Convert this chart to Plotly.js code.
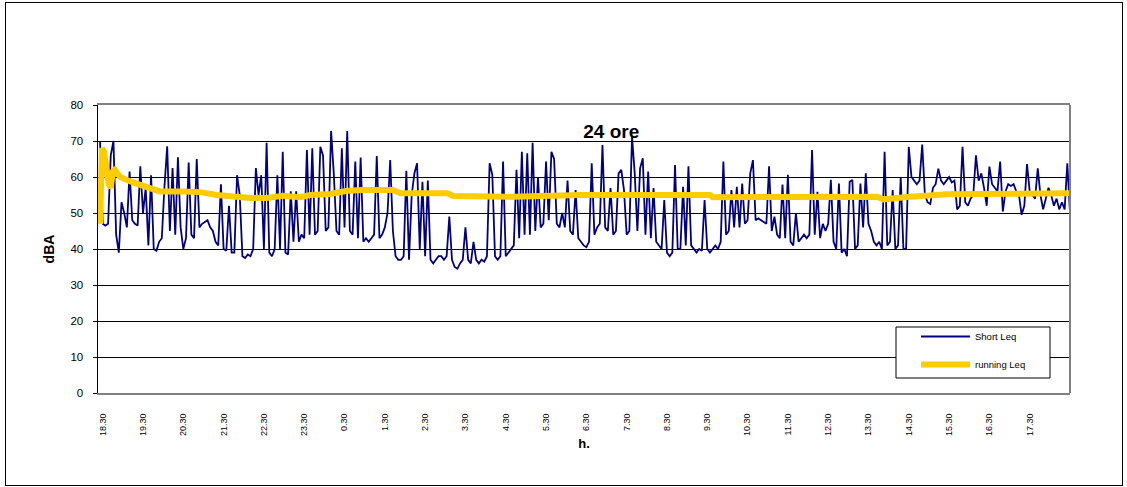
<!DOCTYPE html>
<html>
<head>
<meta charset="utf-8">
<script src="https://cdn.plot.ly/plotly-3.0.1.min.js"></script>
<style>
  html, body { margin: 0; padding: 0; background: #fff; }
  #wrap { position: relative; width: 1127px; height: 487px; }
  #frame { position: absolute; left: 5px; top: 2px; width: 1116px; height: 482px; border: 1px solid #000; pointer-events: none; }
  #chart { position: absolute; left: 0; top: 0; width: 1127px; height: 487px; }
</style>
</head>
<body>
<div id="wrap">
  <div id="chart"></div>
  <div id="frame"></div>
</div>
<script>
// ---- data ----
const chartTitle = '24 ore';
const yTitle = 'dBA';
const xTitle = 'h.';
const seriesNames = ['Short Leq', 'running Leq'];

// Short Leq: one value every 4 minutes starting at 18:26
const shortStart = '18:26';
const shortStepMin = 4;
const shortLeq = [
  70, 47, 46.5, 47, 66, 70, 44, 39, 53, 50, 46, 61.5, 48, 47, 46.5,
  63, 50, 57, 41, 60.5, 40, 39.5, 42, 43, 57.5, 68.5, 45, 62.5, 44, 65.5,
  46, 40, 43, 64, 44, 43, 65, 46, 47, 47.5, 48, 46, 45, 42, 41,
  58, 40, 39.5, 52, 39, 39, 60.5, 55, 38, 37.5, 38.5, 38, 40, 62.5, 55,
  60.5, 40, 69.5, 39, 38, 40, 60.5, 40, 67, 39, 38.5, 56, 42, 56, 42,
  44, 43, 67.5, 44, 68, 44, 45, 68.4, 66, 45, 46, 72.8, 61, 45, 44,
  68, 46, 72.8, 45, 44, 64.3, 43, 65.4, 42, 43, 42, 43, 44, 65.8, 43,
  44, 46, 50, 64.7, 45, 38, 37, 37, 38, 61.7, 37, 55, 61, 63.8, 40,
  58.7, 38, 59, 37, 36, 37, 38, 38, 37, 38, 49, 37, 35, 34.5, 36,
  37, 46, 37, 36, 42, 37, 36, 37, 36.5, 38, 63.8, 60.6, 38, 37, 38,
  64.3, 38, 39, 40, 41, 62, 43, 67, 44, 66.6, 44, 69.5, 45, 60, 46,
  47, 64.3, 48, 67, 65, 47, 46, 50, 46, 59, 45, 44, 56.4, 43, 42,
  41, 40.5, 42, 63.8, 44, 46, 47, 68.9, 46, 45, 56.9, 44, 45, 61, 62,
  56.4, 44, 45, 71.2, 61, 45, 62.4, 65.2, 44, 61.5, 43, 56.9, 42, 41, 40,
  53.6, 39, 38, 39, 63.3, 40, 40, 57.3, 41, 63, 41, 40, 39, 40, 39.5,
  53.6, 40, 39, 40, 41, 40, 42, 64.3, 44, 45, 56.4, 46, 57.3, 46, 58.2,
  47, 48, 61, 64.7, 48, 48.5, 48, 47.5, 47, 63, 45, 49, 44, 43, 57.9,
  43, 60.6, 42, 41, 50, 42, 43, 44, 43, 44, 67.5, 44, 55.9, 43, 47,
  45, 47, 59.2, 42, 40, 58.2, 39, 40, 38, 58.7, 59.2, 40, 41, 58.2, 46,
  61, 47, 45, 42, 41, 42, 40, 67, 41, 42, 56.4, 40, 41, 60, 40,
  40, 68.4, 60, 59, 58, 59, 69, 55, 53, 52.5, 57, 58, 62.3, 59, 58,
  59, 60, 58.5, 59, 51, 52, 68.4, 53, 52, 54, 55, 66, 59, 61, 57,
  52, 62.9, 58, 57, 56, 64.3, 50.4, 56, 58, 57.5, 58, 56, 55, 49.5, 52,
  63.6, 56, 55, 54, 62.4, 55, 51, 54, 57, 55, 52, 54, 51, 53, 51,
  63.8, 50
];

// running Leq: clock time / value
const runTimes = ['18:26','18:29','18:32','18:35','18:39','18:42','18:45','18:48','18:56','19:15',
  '19:40','19:55','20:30','20:55','21:20','21:44','22:09','22:34','22:58','23:24',
  '23:39','00:09','00:34','00:58','01:42','01:53','03:03','03:12','04:41','06:21',
  '09:34','09:38','13:43','13:52','14:27','14:32','15:27','18:29'];
const runValues = [47, 68, 67, 62, 58, 57, 61.5, 62, 60, 58.5,
  57, 56, 56, 55.8, 55, 54.5, 54.2, 54.2, 54.8, 54.4,
  55, 55.3, 56.2, 56.4, 56.4, 55.5, 55.5, 54.7, 54.5, 55,
  55, 54.4, 54.5, 53.8, 54.1, 54.5, 55.2, 55.5];

const tickLabels = ['18.30','19.30','20.30','21.30','22.30','23.30','0.30','1.30','2.30','3.30',
  '4.30','5.30','6.30','7.30','8.30','9.30','10.30','11.30','12.30','13.30',
  '14.30','15.30','16.30','17.30'];
const yTicks = [0, 10, 20, 30, 40, 50, 60, 70, 80];

// ---- helpers ----
const DAY0 = Date.UTC(2024, 0, 1);
function clockSeq(list, sep) {
  let day = 0, prev = -1;
  return list.map(s => {
    const [h, m] = s.split(sep).map(Number);
    const mins = h * 60 + m;
    if (prev >= 0 && mins < prev) day += 1;
    prev = mins;
    return DAY0 + (day * 1440 + mins) * 60000;
  });
}
function iso(ms) { return new Date(ms).toISOString().replace('T', ' ').slice(0, 19); }

const startMs = clockSeq([shortStart], ':')[0];
const shortX = shortLeq.map((_, i) => iso(startMs + i * shortStepMin * 60000));
const runX = clockSeq(runTimes, ':').map(iso);
const tickVals = clockSeq(tickLabels, '.').map(iso);

const FONT = 'Arial, "Liberation Sans", sans-serif';

const traces = [
  { type: 'scatter', mode: 'lines', name: seriesNames[0], x: shortX, y: shortLeq,
    line: { color: '#000080', width: 1.8 }, legendgroup: 'a' },
  { type: 'scatter', mode: 'lines', name: seriesNames[1], x: runX, y: runValues,
    line: { color: '#FFCC00', width: 6 }, legendgroup: 'b' }
];

const layout = {
  width: 1127, height: 487,
  margin: { l: 98, r: 57, t: 105, b: 94 },
  paper_bgcolor: '#ffffff', plot_bgcolor: '#ffffff',
  font: { family: FONT, color: '#000' },
  showlegend: true,
  title: { text: '<b>' + chartTitle + '</b>', font: { size: 19, family: FONT, color: '#000' },
    xref: 'paper', x: 0.528, xanchor: 'center', yref: 'paper', y: 0.91, yanchor: 'middle' },
  xaxis: {
    type: 'date', range: ['2024-01-01 18:23:00', '2024-01-02 18:30:00'],
    tickmode: 'array', tickvals: tickVals, ticktext: tickLabels, tickangle: -90,
    tickfont: { size: 9, family: FONT, color: '#000' },
    ticks: '', ticklabelstandoff: 15, showgrid: false, zeroline: false,
    showline: true, mirror: true, linecolor: '#808080', linewidth: 2,
    title: { text: '<b>' + xTitle + '</b>', font: { size: 13, family: FONT, color: '#000' }, standoff: 4 }
  },
  yaxis: {
    range: [0, 80], tickmode: 'array', tickvals: yTicks,
    tickfont: { size: 11.5, family: FONT, color: '#000' },
    ticks: 'outside', ticklen: 4, tickcolor: '#000', tickwidth: 1,
    ticklabelstandoff: 7,
    showgrid: true, gridcolor: '#000', gridwidth: 1, zeroline: false,
    showline: true, linecolor: '#000', linewidth: 1.5,
    title: { text: '<b>' + yTitle + '</b>', font: { size: 14, family: FONT, color: '#000' }, standoff: 12 }
  },
  shapes: [
    { type: 'line', xref: 'paper', yref: 'paper', x0: 1, x1: 1, y0: 0, y1: 1,
      line: { color: '#808080', width: 2 }, layer: 'above' },
    // legend frame
    { type: 'rect', xref: 'paper', yref: 'paper',
      x0: (896 - 98) / 972, x1: (1050 - 98) / 972, y0: (393 - 378) / 288, y1: (393 - 327) / 288,
      line: { color: '#000', width: 1 }, fillcolor: '#ffffff', layer: 'above' }
  ],
  legend: {
    x: (916 - 98) / 972, y: 0.2465, xanchor: 'left', yanchor: 'top',
    bgcolor: 'rgba(0,0,0,0)', borderwidth: 0,
    font: { size: 9.5, family: FONT, color: '#000' },
    tracegroupgap: 9, traceorder: 'grouped', itemwidth: 49
  }
};

Plotly.newPlot('chart', traces, layout, { displayModeBar: false, staticPlot: true });
</script>
</body>
</html>
